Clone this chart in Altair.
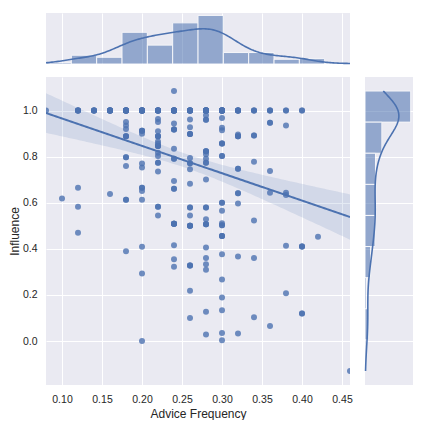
import numpy as np
import pandas as pd
import altair as alt

# distinct Advice Frequency levels
x_levels = [0.08, 0.10, 0.12, 0.14, 0.16, 0.18, 0.20, 0.22, 0.24, 0.26,
            0.28, 0.30, 0.32, 0.34, 0.36, 0.38, 0.40, 0.42, 0.46]

# Influence values observed at each level
influence_at = [
    [1.0],
    [0.619],
    [1.0, 0.665, 0.583, 0.47],
    [1.0],
    [1.0, 0.638],
    [1.0, 0.95, 0.935, 0.92, 0.889, 0.797, 0.76, 0.613, 0.39],
    [1.0, 0.913, 0.899, 0.77, 0.753, 0.665, 0.651, 0.613, 0.409, 0.293, 0.0],
    [1.0, 0.964, 0.95, 0.91, 0.889, 0.866, 0.856, 0.846, 0.817, 0.803, 0.774, 0.736, 0.583, 0.545],
    [1.085, 1.0, 0.944, 0.918, 0.834, 0.791, 0.694, 0.661, 0.509, 0.416, 0.355, 0.322],
    [1.0, 0.961, 0.928, 0.898, 0.794, 0.771, 0.745, 0.683, 0.579, 0.545, 0.5, 0.328, 0.218, 0.1],
    [1.0, 0.98, 0.96, 0.824, 0.81, 0.791, 0.774, 0.701, 0.579, 0.528, 0.507, 0.406, 0.36, 0.333, 0.309, 0.127, 0.028],
    [1.0, 0.968, 0.925, 0.915, 0.857, 0.803, 0.60, 0.565, 0.511, 0.502, 0.456, 0.377, 0.267, 0.189, 0.134, 0.035, 0.003],
    [1.0, 0.896, 0.889, 0.748, 0.641, 0.597, 0.367, 0.033],
    [1.0, 0.892, 0.778, 0.523, 0.36, 0.103],
    [1.0, 0.947, 0.738, 0.644, 0.065],
    [1.0, 0.935, 0.644, 0.634, 0.413, 0.207],
    [1.0, 0.41, 0.12],
    [0.453],
    [-0.13],
]

# how many observations sit on each (overlapping) point
repeats_at = [
    [1],
    [1],
    [5, 1, 1, 1],
    [5],
    [9, 1],
    [11, 1, 1, 1, 3, 2, 1, 2, 1],
    [11, 3, 1, 1, 1, 2, 1, 1, 1, 1, 1],
    [9, 1, 1, 1, 3, 1, 1, 3, 1, 1, 2, 1, 2, 1],
    [1, 11, 1, 3, 1, 2, 1, 2, 5, 1, 1, 1],
    [9, 1, 1, 3, 1, 2, 1, 1, 2, 1, 4, 3, 1, 1],
    [13, 1, 2, 3, 1, 1, 2, 1, 2, 1, 3, 1, 1, 1, 1, 1, 1],
    [13, 1, 1, 1, 3, 2, 2, 1, 1, 2, 3, 1, 1, 1, 1, 1, 1],
    [6, 1, 3, 2, 2, 1, 1, 1],
    [3, 2, 1, 1, 1, 1],
    [3, 2, 1, 1, 1],
    [2, 1, 1, 1, 1, 1],
    [2, 3, 2],
    [1],
    [1],
]

x_ticks = [0.10, 0.15, 0.20, 0.25, 0.30, 0.35, 0.40, 0.45]
y_ticks = [0.0, 0.2, 0.4, 0.6, 0.8, 1.0]
n_xbins = 12
n_ybins = 9

# ---------- build table ----------
rows = []
for xv, ys, reps in zip(x_levels, influence_at, repeats_at):
    for yv, r in zip(ys, reps):
        rows += [(xv, yv)] * r
df = pd.DataFrame(rows, columns=["advice", "influence"])

xv = df["advice"].to_numpy()
yv = df["influence"].to_numpy()
n = len(xv)
xmin, xmax = float(xv.min()), float(xv.max())
ymin, ymax = float(yv.min()), float(yv.max())
xdom = [xmin, xmax]
ypad = 0.05 * (ymax - ymin)
ydom = [ymin - ypad, ymax + ypad]
stepx = (xmax - xmin) / n_xbins
stepy = (ymax - ymin) / n_ybins

# regression fit + 95% band
b, a = np.polyfit(xv, yv, 1)
grid = np.linspace(xmin, xmax, 120)
yhat = a + b * grid
resid = yv - (a + b * xv)
s = np.sqrt((resid ** 2).sum() / (n - 2))
sxx = ((xv - xv.mean()) ** 2).sum()
se = s * np.sqrt(1.0 / n + (grid - xv.mean()) ** 2 / sxx)
fit = pd.DataFrame({"advice": grid, "fit": yhat, "lo": yhat - 1.97 * se, "hi": yhat + 1.97 * se})

# kde bandwidths (Scott)
bwx = xv.std(ddof=1) * n ** (-0.2)
bwy = yv.std(ddof=1) * n ** (-0.2)


def kde_counts(vals, bw, g, step):
    d = np.exp(-0.5 * ((g[:, None] - vals[None, :]) / bw) ** 2).sum(1) / (bw * np.sqrt(2 * np.pi))
    return d * step


gx = np.linspace(xmin, xmax, 200)
gy = np.linspace(ymin, ymax, 200)
top_max = 1.05 * max(np.histogram(xv, bins=n_xbins, range=(xmin, xmax))[0].max(),
                     kde_counts(xv, bwx, gx, stepx).max())
right_max = 1.05 * max(np.histogram(yv, bins=n_ybins, range=(ymin, ymax))[0].max(),
                       kde_counts(yv, bwy, gy, stepy).max())

BLUE = "#4C72B0"
BG = "#EAEAF2"
FONT = "Liberation Sans"
TXT = "#262626"
view_bg = alt.ViewBackground(fill=BG, stroke=None)

xscale = alt.Scale(domain=xdom, nice=False, zero=False)
yscale = alt.Scale(domain=ydom, nice=False, zero=False)

grid_only_x = alt.Axis(values=x_ticks, grid=True, gridColor="white", gridWidth=1,
                       labels=False, ticks=False, domain=False, title=None)
grid_only_y = alt.Axis(values=y_ticks, grid=True, gridColor="white", gridWidth=1,
                       labels=False, ticks=False, domain=False, title=None)

# ---------- main panel ----------
x_axis = alt.Axis(values=x_ticks, format=".2f", title="Advice Frequency", grid=True,
                  gridColor="white", gridWidth=1, ticks=False, tickSize=0, domain=False,
                  labelFlush=False, labelPadding=9, titlePadding=4)
y_axis = alt.Axis(values=y_ticks, format=".1f", title="Influence", grid=True,
                  gridColor="white", gridWidth=1, ticks=False, tickSize=0, domain=False,
                  labelFlush=False, labelPadding=9, titlePadding=1)

band = alt.Chart(fit).mark_area(color=BLUE, opacity=0.15, clip=True).encode(
    x=alt.X("advice:Q", scale=xscale, axis=x_axis),
    y=alt.Y("lo:Q", scale=yscale, axis=y_axis),
    y2="hi:Q",
)
pts = alt.Chart(df).mark_circle(size=36, color=BLUE, opacity=0.8, clip=True).encode(
    x=alt.X("advice:Q", scale=xscale, axis=x_axis),
    y=alt.Y("influence:Q", scale=yscale, axis=y_axis),
)
line = alt.Chart(fit).mark_line(color=BLUE, strokeWidth=2, clip=True).encode(
    x=alt.X("advice:Q", scale=xscale, axis=x_axis),
    y=alt.Y("fit:Q", scale=yscale, axis=y_axis),
)
main = alt.layer(band, pts, line).properties(width=304, height=308, view=view_bg)

# ---------- top marginal ----------
top_bars = alt.Chart(df).transform_bin(
    "bx", "advice", bin=alt.Bin(extent=xdom, step=stepx, nice=False)
).transform_aggregate(cnt="count()", groupby=["bx", "bx_end"]).mark_bar(
    color=BLUE, opacity=0.55, stroke="white", strokeWidth=1
).encode(
    x=alt.X("bx:Q", scale=xscale, axis=grid_only_x),
    x2="bx_end:Q",
    y=alt.Y("cnt:Q", scale=alt.Scale(domain=[0, top_max], nice=False), axis=None),
    y2=alt.datum(0),
)
top_kde = alt.Chart(df).transform_density(
    "advice", as_=["advice", "density"], bandwidth=bwx, extent=xdom, counts=True, steps=200
).transform_calculate(kde=f"datum.density * {stepx}").mark_line(
    color=BLUE, strokeWidth=1.6
).encode(
    x=alt.X("advice:Q", scale=xscale, axis=grid_only_x),
    y=alt.Y("kde:Q", scale=alt.Scale(domain=[0, top_max], nice=False), axis=None),
)
top = alt.layer(top_bars, top_kde).properties(width=304, height=51, view=view_bg)

# ---------- right marginal ----------
right_bars = alt.Chart(df).transform_bin(
    "by", "influence", bin=alt.Bin(extent=[ymin, ymax], step=stepy, nice=False)
).transform_aggregate(cnt="count()", groupby=["by", "by_end"]).mark_bar(
    color=BLUE, opacity=0.55, stroke="white", strokeWidth=1
).encode(
    y=alt.Y("by:Q", scale=yscale, axis=grid_only_y),
    y2="by_end:Q",
    x=alt.X("cnt:Q", scale=alt.Scale(domain=[0, right_max], nice=False), axis=None),
    x2=alt.datum(0),
)
right_kde = alt.Chart(df).transform_density(
    "influence", as_=["influence", "density"], bandwidth=bwy, extent=[ymin, ymax],
    counts=True, steps=200
).transform_calculate(kde=f"datum.density * {stepy}").mark_line(
    color=BLUE, strokeWidth=1.6
).encode(
    y=alt.Y("influence:Q", scale=yscale, axis=grid_only_y),
    x=alt.X("kde:Q", scale=alt.Scale(domain=[0, right_max], nice=False), axis=None),
    order="influence:Q",
)
right = alt.layer(right_bars, right_kde).properties(width=48, height=308, view=view_bg)

blank = alt.Chart(pd.DataFrame({"v": [0]})).mark_point(opacity=0).encode(
    x=alt.value(0), y=alt.value(0)
).properties(width=48, height=51, view=alt.ViewBackground(fill="white", stroke=None))

chart = alt.concat(
    top, blank, main, right, columns=2, bounds="flush", align="each",
    spacing=alt.RowColnumber(row=13, column=15),
).properties(
    padding={"left": 0, "top": 2, "right": 0, "bottom": 0}
).configure(background="white").configure_view(stroke=None).configure_axis(
    labelFont=FONT, titleFont=FONT, labelFontSize=10.5, titleFontSize=12,
    labelColor=TXT, titleColor=TXT, titleFontWeight="normal",
)

chart.save("out.html", embed_options={"renderer": "svg", "actions": False})
